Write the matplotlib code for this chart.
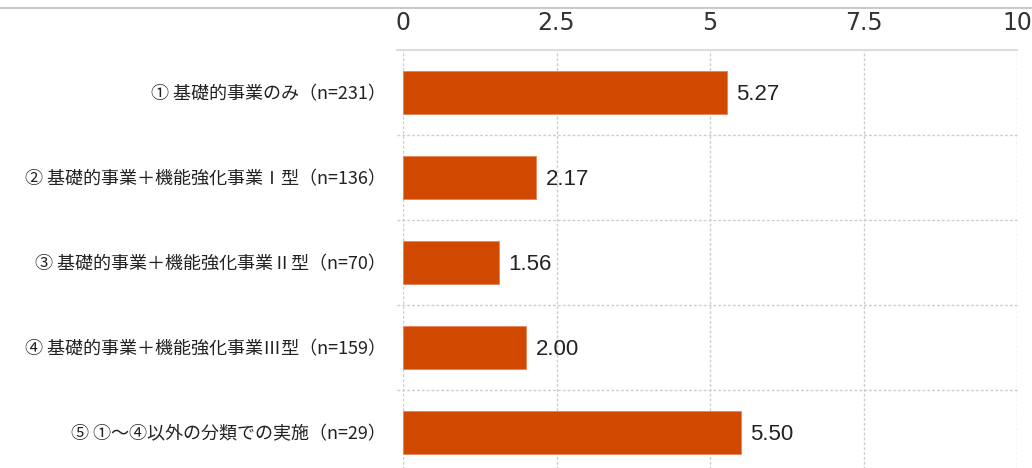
import matplotlib.pyplot as plt
from matplotlib.lines import Line2D

categories = ['① 基礎的事業のみ（n=231）',
              '② 基礎的事業＋機能強化事業Ⅰ型（n=136）',
              '③ 基礎的事業＋機能強化事業Ⅱ型（n=70）',
              '④ 基礎的事業＋機能強化事業Ⅲ型（n=159）',
              '⑤ ①～④以外の分類での実施（n=29）']
values = [5.27, 2.17, 1.56, 2.00, 5.50]
xticks = [0, 2.5, 5, 7.5, 10]
xticklabels = ['0', '2.5', '5', '7.5', '10']

plt.rcParams['font.family'] = ['Noto Sans CJK JP', 'DejaVu Sans']

fig = plt.figure(figsize=(10.32, 4.68), dpi=100)
ax = fig.add_axes([0.3905, -0.015, 0.595, 0.9081])

pos = list(range(len(categories)))
ax.barh(pos, values, height=0.5, color='#D14900', edgecolor='#E8855A', linewidth=0.6, zorder=3)
ax.set_ylim(len(categories) - 0.5, -0.5)
ax.set_xlim(0, 10)

ax.set_yticks(pos)
ax.set_yticklabels(categories, fontsize=13, color='#222222')
ax.tick_params(axis='y', length=0, pad=12)

ax.xaxis.tick_top()
ax.set_xticks(xticks)
ax.set_xticklabels(xticklabels, fontsize=17, family='Liberation Sans Narrow', color='#333333')
ax.tick_params(axis='x', length=0, pad=11)

for s in ax.spines.values():
    s.set_visible(False)

# gridlines
for t in xticks:
    ax.axvline(t, color='#cccccc', linestyle=(0, (2, 1.5)), linewidth=1, zorder=1)
for b in [0.5, 1.5, 2.5, 3.5]:
    ax.axhline(b, xmin=-0.01, xmax=1, color='#cccccc', linestyle=(0, (2, 1.5)),
               linewidth=1, zorder=1, clip_on=False)
ax.axhline(-0.5, xmin=-0.01, xmax=1, color='#dddddd', linewidth=1.5, zorder=1, clip_on=False)

for p, v in zip(pos, values):
    ax.text(v + 0.16, p + 0.02, f'{v:.2f}', va='center', ha='left', fontsize=16,
            family='Liberation Sans', color='#222222')

fig.add_artist(Line2D([0, 1], [1 - 8 / 468, 1 - 8 / 468], color='#c0c0c0', linewidth=1.2))

fig.savefig('out.png', dpi=100)
